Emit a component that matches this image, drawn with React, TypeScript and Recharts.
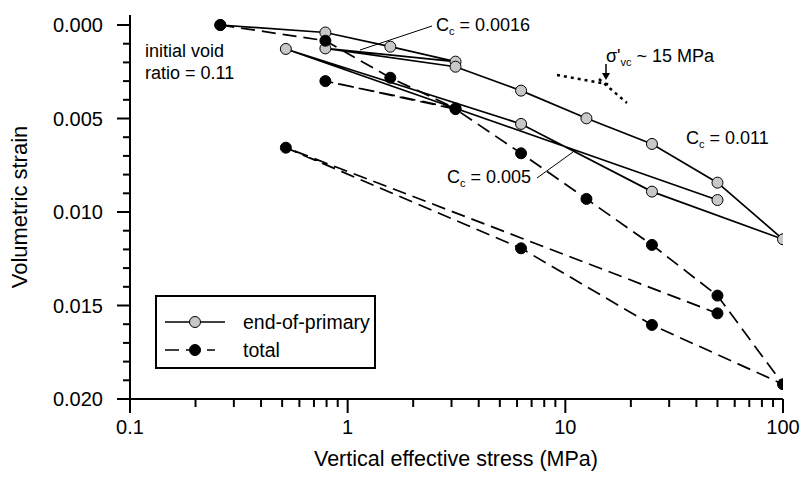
import React from 'react';
import { ScatterChart, Scatter, XAxis, YAxis } from 'recharts';

document.body.style.margin = '0';

// load steps (MPa), shared by both series, in test order
const stress = [0.26, 0.79, 1.57, 3.13, 0.79, 3.13, 6.26, 12.5, 25, 50, 100, 25, 6.26, 0.52, 50];
const eopStrain = [0, 0.0004, 0.00116, 0.00196, 0.00125, 0.00223, 0.00351, 0.00499, 0.00636, 0.00843, 0.01146, 0.00891, 0.00529, 0.00128, 0.00936];
const totalStrain = [0, 0.00084, 0.00282, 0.00446, 0.003, 0.0045, 0.00686, 0.0093, 0.01176, 0.01447, 0.01921, 0.01604, 0.01194, 0.00656, 0.01542];

const xTicks = [0.1, 0.2, 0.3, 0.4, 0.5, 0.6, 0.7, 0.8, 0.9, 1, 2, 3, 4, 5, 6, 7, 8, 9, 10, 20, 30, 40, 50, 60, 70, 80, 90, 100];
const xLabels = [0.1, 1, 10, 100];
const yTicks = [0, 0.001, 0.002, 0.003, 0.004, 0.005, 0.006, 0.007, 0.008, 0.009, 0.01, 0.011, 0.012, 0.013, 0.014, 0.015, 0.016, 0.017, 0.018, 0.019, 0.02];
const yLabels = [0, 0.005, 0.01, 0.015, 0.02];

const eopData = stress.map((s, i) => ({ s, e: eopStrain[i] }));
const totalData = stress.map((s, i) => ({ s, e: totalStrain[i] }));

const FONT = '"Liberation Sans", Arial, sans-serif';
const Y_TOP = -0.000535;

const isLabel = (list: number[], v: number) => list.some((l) => Math.abs(l - v) < 1e-9);

const XTick = ({ x, y, payload }: any) => {
  const major = isLabel(xLabels, payload.value);
  return (
    <g>
      <line x1={x} x2={x} y1={y} y2={y + (major ? 14 : 8)} stroke="#000" strokeWidth={2} />
      {major && (
        <text x={x} y={y + 35} textAnchor="middle" fontSize={20} fontFamily={FONT} fill="#000">
          {payload.value}
        </text>
      )}
    </g>
  );
};

const YTick = ({ x, y, payload }: any) => {
  const major = isLabel(yLabels, payload.value);
  return (
    <g>
      <line x1={x} x2={x - (major ? 13 : 7)} y1={y} y2={y} stroke="#000" strokeWidth={2} />
      {major && (
        <text x={x - 27} y={y + 7} textAnchor="end" fontSize={20} fontFamily={FONT} fill="#000">
          {payload.value.toFixed(3)}
        </text>
      )}
    </g>
  );
};

const dot = (fill: string) => (p: any) => <circle cx={p.cx} cy={p.cy} r={5.5} fill={fill} stroke="#000" strokeWidth={1} />;

const Cc = ({ x, y, v }: { x: number; y: number; v: string }) => (
  <text x={x} y={y} fontSize={18} fontFamily={FONT} fill="#000">
    C<tspan fontSize={11} dy={4}>c</tspan>
    <tspan dy={-4}>{` = ${v}`}</tspan>
  </text>
);

export default function App() {
  return (
    <div style={{ position: 'relative', width: 808, height: 485, background: '#fff' }}>
      <ScatterChart width={808} height={485} margin={{ top: 15, right: 25, bottom: 36, left: 60 }}>
        <XAxis
          dataKey="s"
          type="number"
          scale="log"
          domain={[0.1, 100]}
          ticks={xTicks}
          interval={0}
          tick={<XTick />}
          tickLine={false}
          tickSize={0}
          tickMargin={0}
          height={50}
          axisLine={{ stroke: '#000', strokeWidth: 2 }}
          allowDataOverflow
        />
        <XAxis xAxisId="top" orientation="top" type="number" scale="log" domain={[0.1, 100]} height={0} tick={false} tickLine={false} axisLine={{ stroke: '#000', strokeWidth: 2 }} />
        <YAxis
          dataKey="e"
          type="number"
          reversed
          domain={[Y_TOP, 0.02]}
          ticks={yTicks}
          interval={0}
          tick={<YTick />}
          tickLine={false}
          tickSize={0}
          tickMargin={0}
          width={70}
          axisLine={{ stroke: '#000', strokeWidth: 2 }}
          allowDataOverflow
        />
        <YAxis yAxisId="right" orientation="right" type="number" domain={[Y_TOP, 0.02]} width={0} tick={false} tickLine={false} axisLine={{ stroke: '#000', strokeWidth: 2 }} />
        <Scatter
          name="end-of-primary"
          data={eopData}
          fill="#c8c8c8"
          line={{ stroke: '#000', strokeWidth: 1.7 }}
          shape={dot('#c8c8c8')}
          isAnimationActive={false}
        />
        <Scatter
          name="total"
          data={totalData}
          fill="#000"
          line={{ stroke: '#000', strokeWidth: 1.7, strokeDasharray: '14 7' }}
          shape={dot('#000')}
          isAnimationActive={false}
        />
      </ScatterChart>
      <svg width={808} height={485} style={{ position: 'absolute', left: 0, top: 0, pointerEvents: 'none' }}>
        <text transform="translate(27,207) rotate(-90)" textAnchor="middle" fontSize={22} fontFamily={FONT} fill="#000">
          Volumetric strain
        </text>
        <text x={456} y={466} textAnchor="middle" fontSize={21.5} fontFamily={FONT} fill="#000">
          Vertical effective stress (MPa)
        </text>
        <text x={145} y={57} fontSize={18} fontFamily={FONT} fill="#000">initial void</text>
        <text x={145} y={79} fontSize={18} fontFamily={FONT} fill="#000">ratio = 0.11</text>
        <Cc x={436} y={31} v="0.0016" />
        <line x1={432} y1={26} x2={360} y2={50} stroke="#000" strokeWidth={1} />
        <Cc x={686} y={144} v="0.011" />
        <Cc x={447} y={183} v="0.005" />
        <line x1={537} y1={178} x2={573} y2={152} stroke="#000" strokeWidth={1} />
        <text x={606} y={62} fontSize={18} fontFamily={FONT} fill="#000">
          σ'<tspan fontSize={11} dy={4}>vc</tspan>
          <tspan dy={-4}> ~ 15 MPa</tspan>
        </text>
        <line x1={606} y1={64} x2={606} y2={74} stroke="#000" strokeWidth={1.5} />
        <polygon points="602,73 610,73 606,80" fill="#000" />
        <line x1={557} y1={75} x2={612} y2={85} stroke="#000" strokeWidth={2.5} strokeDasharray="3 4" />
        <line x1={599} y1={79} x2={627} y2={103} stroke="#000" strokeWidth={2.5} strokeDasharray="3 4" />
        <rect x={156} y={296} width={219} height={72} fill="#fff" stroke="#000" strokeWidth={2} />
        <line x1={165} y1={322} x2={225} y2={322} stroke="#000" strokeWidth={1.7} />
        <circle cx={195} cy={322} r={5.5} fill="#c8c8c8" stroke="#000" />
        <text x={243} y={329} fontSize={19.5} fontFamily={FONT} fill="#000">end-of-primary</text>
        <line x1={165} y1={350} x2={215} y2={350} stroke="#000" strokeWidth={1.7} strokeDasharray="14 7" />
        <circle cx={195} cy={350} r={5.5} fill="#000" stroke="#000" />
        <text x={243} y={357} fontSize={19.5} fontFamily={FONT} fill="#000">total</text>
      </svg>
    </div>
  );
}
